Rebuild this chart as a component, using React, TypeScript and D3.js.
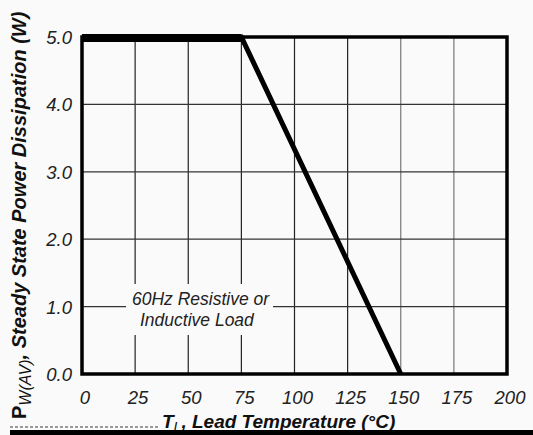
import React from "react";
import * as d3 from "d3";

const temps = [0, 75, 150];
const power = [5, 5, 0];
const xTicks = [0, 25, 50, 75, 100, 125, 150, 175, 200];
const yTicks = [0, 1, 2, 3, 4, 5];
const noteLines = ["60Hz Resistive or", "Inductive Load"];

const W = 533;
const H = 435;

export default function App() {
  const x = d3.scaleLinear().domain([0, 200]).range([82, 507]);
  const y = d3.scaleLinear().domain([0, 5]).range([374, 37]);
  const pts: [number, number][] = temps.map((t, i) => [t, power[i]]);
  const line = d3
    .line<[number, number]>()
    .x((d) => x(d[0]))
    .y((d) => y(d[1]));
  const font = "'Liberation Sans', Arial, sans-serif";

  return (
    <svg
      width={W}
      height={H}
      style={{ position: "absolute", left: 0, top: 0, background: "#fafafa" }}
      fontFamily={font}
    >
      <rect x={0} y={0} width={W} height={H} fill="#fafafa" />
      {xTicks.slice(1, -1).map((t) => (
        <line key={"gx" + t} x1={x(t)} x2={x(t)} y1={y(5)} y2={y(0)} stroke={t >= 150 ? "#777" : "#222"} strokeWidth={1.2} />
      ))}
      {yTicks.slice(1, -1).map((t) => (
        <line key={"gy" + t} x1={x(0)} x2={x(200)} y1={y(t)} y2={y(t)} stroke="#333" strokeWidth={1.2} />
      ))}
      <rect x={126} y={284} width={147} height={51} fill="#fafafa" />
      {noteLines.map((s, i) => (
        <text key={s} x={i === 0 ? 132 : 140} y={305 + i * 21} fontSize={17.5} fontStyle="italic" fill="#222">
          {s}
        </text>
      ))}
      <rect x={x(0)} y={y(5)} width={x(200) - x(0)} height={y(0) - y(5)} fill="none" stroke="#000" strokeWidth={3.5} />
      <path d={line(pts) || ""} fill="none" stroke="#000" strokeWidth={5} strokeLinejoin="miter" />
      <path d={line(pts.slice(0, 2)) || ""} fill="none" stroke="#000" strokeWidth={8} transform="translate(0,1)" />
      {yTicks.map((t) => (
        <text key={"yl" + t} x={72} y={y(t) + 7} textAnchor="end" fontSize={18.5} fontStyle="italic" fill="#222">
          {t.toFixed(1)}
        </text>
      ))}
      {xTicks.map((t) => (
        <text key={"xl" + t} x={x(t) + 3} y={404} textAnchor="middle" fontSize={18.5} fontStyle="italic" fill="#222">
          {t}
        </text>
      ))}
      <text transform="translate(26,419) rotate(-90)" fontSize={20} fontWeight="bold" fontStyle="italic" fill="#111">
        <tspan fontStyle="normal">P</tspan>
        <tspan fontSize={16} fontWeight="normal" dy={5}>W(AV)</tspan>
        <tspan dy={-5}>, Steady State Power Dissipation (W)</tspan>
      </text>
      <text x={162} y={428} fontSize={19} fontWeight="bold" fontStyle="italic" fill="#111">
        <tspan>T</tspan>
        <tspan fontSize={14} fontWeight="normal" dy={4}>L</tspan>
        <tspan dy={-4}>, Lead Temperature (°C)</tspan>
      </text>
      <line x1={10} x2={160} y1={427} y2={427} stroke="#999" strokeWidth={2} strokeDasharray="3,2" />
      <rect x={10} y={430} width={523} height={5} fill="#000" />
    </svg>
  );
}
